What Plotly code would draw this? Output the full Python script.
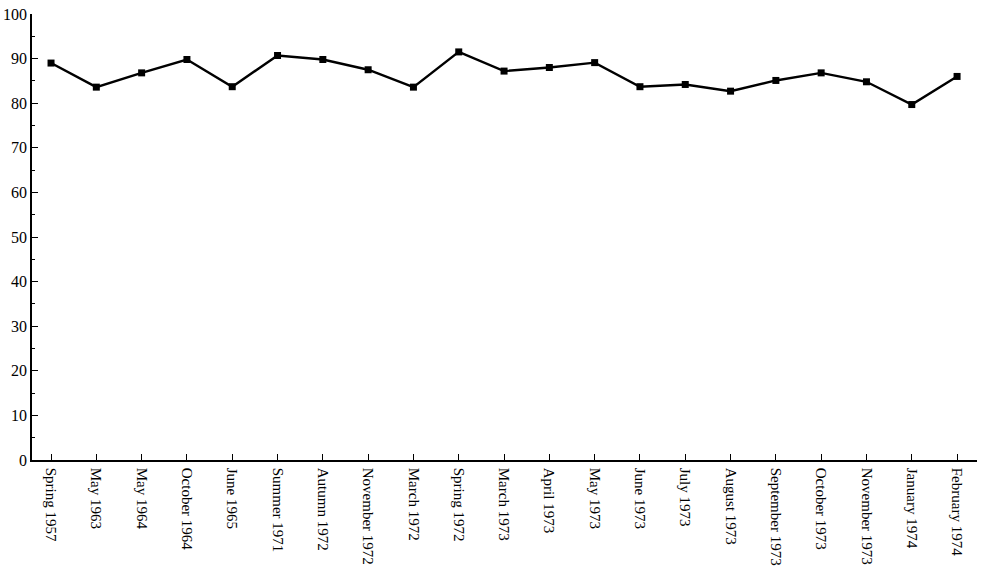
"""Line chart of survey percentages, 1957-1974."""

import plotly.graph_objects as go

PERIODS = [
    "Spring 1957", "May 1963", "May 1964", "October 1964", "June 1965",
    "Summer 1971", "Autumn 1972", "November 1972", "March 1972", "Spring 1972",
    "March 1973", "April 1973", "May 1973", "June 1973", "July 1973",
    "August 1973", "September 1973", "October 1973", "November 1973",
    "January 1974", "February 1974",
]
VALUES = [
    89, 83.6, 86.8, 89.8, 83.7,
    90.7, 89.8, 87.5, 83.6, 91.5,
    87.2, 88, 89.1, 83.7, 84.2,
    82.7, 85.1, 86.8, 84.8, 79.7,
    86,
]
Y_TICKS = [0, 10, 20, 30, 40, 50, 60, 70, 80, 90, 100]

FONT = "Liberation Serif"

fig = go.Figure(
    go.Scatter(
        x=list(range(len(PERIODS))),
        y=VALUES,
        mode="lines+markers",
        line=dict(color="black", width=2.4),
        marker=dict(symbol="square", size=7, color="black"),
        showlegend=False,
    )
)

fig.update_layout(
    width=982,
    height=575,
    margin=dict(l=32, r=5, t=14, b=115),
    paper_bgcolor="white",
    plot_bgcolor="white",
    font=dict(family=FONT, size=15, color="black"),
)

fig.update_xaxes(
    range=[-0.42, 20.44],
    tickmode="array",
    tickvals=list(range(len(PERIODS))),
    ticktext=PERIODS,
    tickangle=90,
    ticks="inside",
    ticklen=6,
    tickwidth=1.2,
    tickcolor="black",
    ticklabelstandoff=3,
    showline=True,
    linecolor="black",
    linewidth=1.5,
    showgrid=False,
    zeroline=False,
    automargin=False,
)

fig.update_yaxes(
    range=[0, 100],
    tickmode="array",
    tickvals=Y_TICKS,
    tickfont=dict(size=16),
    ticklabeloverflow="allow",
    ticks="inside",
    ticklen=6,
    tickwidth=1.2,
    tickcolor="black",
    minor=dict(ticks="inside", ticklen=3, tickcolor="black", dtick=5, showgrid=False),
    showline=True,
    linecolor="black",
    linewidth=1.5,
    showgrid=False,
    zeroline=False,
    ticklabelstandoff=0,
    automargin=False,
)

# drop the default page margin so the figure sits flush with the window
fig.write_html(
    "out.html",
    config={"displayModeBar": False},
    post_script="document.body.style.margin = '0';",
)
